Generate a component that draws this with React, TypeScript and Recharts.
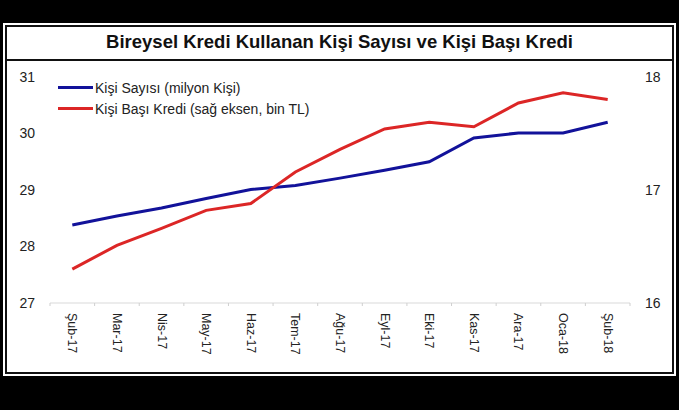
import React from "react";
import { LineChart, Line, XAxis, YAxis } from "recharts";

const months = ["Şub-17", "Mar-17", "Nis-17", "May-17", "Haz-17", "Tem-17", "Ağu-17", "Eyl-17", "Eki-17", "Kas-17", "Ara-17", "Oca-18", "Şub-18"];
const kisiSayisi = [28.38, 28.54, 28.68, 28.85, 29.01, 29.08, 29.21, 29.35, 29.5, 29.92, 30.01, 30.01, 30.2];
const kisiBasiKredi = [16.3, 16.51, 16.66, 16.82, 16.88, 17.16, 17.36, 17.54, 17.6, 17.56, 17.77, 17.86, 17.8];
const leftTicks = [27, 28, 29, 30, 31];
const rightTicks = [16, 17, 18];

const BLUE = "#12129a";
const RED = "#dc2626";
const FONT = "'Liberation Sans', Arial, sans-serif";

const rows = months.map((m, i) => ({ m, sayi: kisiSayisi[i], kredi: kisiBasiKredi[i] }));

const legendItems = [
  { label: "Kişi Sayısı (milyon Kişi)", color: BLUE },
  { label: "Kişi Başı Kredi (sağ eksen, bin TL)", color: RED },
];

function MonthTick(props: any) {
  const { x, y, payload, index } = props;
  const half = payload?.offset ?? 22.3;
  return (
    <g>
      <line x1={x - half} y1={y - 8} x2={x - half} y2={y - 5} stroke="#cfcfcf" />
      {index === months.length - 1 && (
        <line x1={x + half} y1={y - 8} x2={x + half} y2={y - 5} stroke="#cfcfcf" />
      )}
      <text
        x={0}
        y={0}
        transform={`translate(${x},${y + 2}) rotate(90)`}
        textAnchor="start"
        dominantBaseline="central"
        fontSize={12.5}
        fill="#222"
        fontFamily={FONT}
      >
        {payload.value}
      </text>
    </g>
  );
}

export default function App() {
  return (
    <div style={{ position: "absolute", left: 0, top: 0, width: 679, height: 410, background: "#000" }}>
      <div style={{ position: "absolute", left: 3, top: 23, width: 673, height: 353, background: "#fff" }} />
      <div
        style={{
          position: "absolute",
          left: 5,
          top: 25,
          width: 665,
          height: 345,
          border: "2px solid #111",
        }}
      />
      <div style={{ position: "absolute", left: 5, top: 59, width: 669, height: 2, background: "#111" }} />
      <div
        style={{
          position: "absolute",
          left: 0,
          top: 31,
          width: 679,
          textAlign: "center",
          fontFamily: FONT,
          fontWeight: "bold",
          fontSize: 18.5,
          color: "#111",
        }}
      >
        Bireysel Kredi Kullanan Kişi Sayısı ve Kişi Başı Kredi
      </div>
      <div style={{ position: "absolute", left: 0, top: 0 }}>
        <LineChart
          width={679}
          height={410}
          data={rows}
          margin={{ top: 77, right: 0, bottom: 47, left: 0 }}
        >
          <XAxis
            dataKey="m"
            scale="band"
            interval={0}
            height={60}
            tickLine={false}
            axisLine={{ stroke: "#d9d9d9" }}
            tick={<MonthTick />}
          />
          <YAxis
            yAxisId="left"
            domain={[27, 31]}
            ticks={leftTicks}
            width={50}
            axisLine={false}
            tickLine={false}
            tickSize={0}
            tickMargin={15}
            tick={{ fontSize: 14, fill: "#222", fontFamily: FONT }}
          />
          <YAxis
            yAxisId="right"
            orientation="right"
            domain={[16, 18]}
            ticks={rightTicks}
            width={49}
            axisLine={false}
            tickLine={false}
            tickSize={0}
            tickMargin={15}
            tick={{ fontSize: 14, fill: "#222", fontFamily: FONT, textAnchor: "start" }}
          />
          <Line
            yAxisId="left"
            dataKey="sayi"
            stroke={BLUE}
            strokeWidth={3}
            dot={false}
            isAnimationActive={false}
          />
          <Line
            yAxisId="right"
            dataKey="kredi"
            stroke={RED}
            strokeWidth={3}
            dot={false}
            isAnimationActive={false}
          />
        </LineChart>
      </div>
      <div style={{ position: "absolute", left: 58, top: 77, fontFamily: FONT, fontSize: 14, color: "#222" }}>
        {legendItems.map((it) => (
          <div key={it.label} style={{ display: "flex", alignItems: "center", height: 21 }}>
            <span style={{ display: "inline-block", width: 35, height: 3, background: it.color, marginRight: 2 }} />
            <span>{it.label}</span>
          </div>
        ))}
      </div>
    </div>
  );
}
